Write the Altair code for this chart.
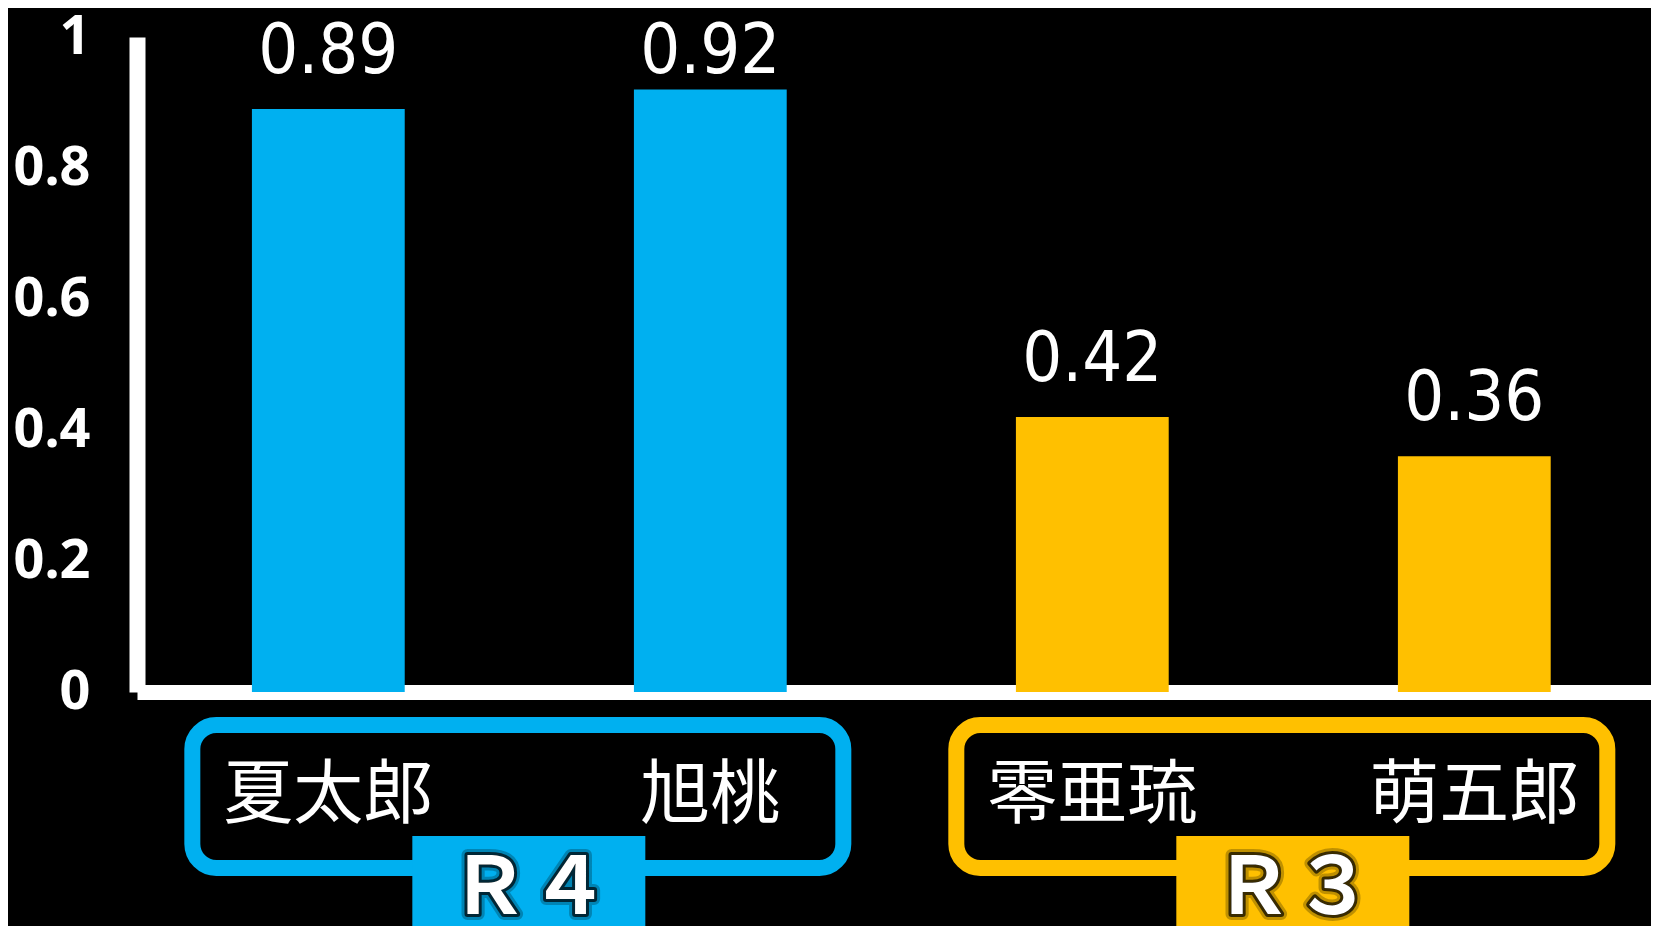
import altair as alt
import pandas as pd

# ---- data ----
names = ["夏太郎", "旭桃", "零亜琉", "萌五郎"]
values = [0.89, 0.92, 0.42, 0.36]
bar_groups = ["Ｒ４", "Ｒ４", "Ｒ３", "Ｒ３"]

group_labels = ["Ｒ４", "Ｒ３"]
group_first = ["夏太郎", "零亜琉"]
group_last = ["旭桃", "萌五郎"]
group_colors = ["#00B0F0", "#FFC000"]

y_ticks = [0, 0.2, 0.4, 0.6, 0.8, 1]

bars_df = pd.DataFrame({"name": names, "value": values, "group": bar_groups})
groups_df = pd.DataFrame({"group": group_labels, "first": group_first, "last": group_last})

xscale = alt.Scale(domain=names, paddingInner=0.6, paddingOuter=0.2817, align=0.534)
yscale = alt.Scale(domain=[0, 1], nice=False, zero=True)
cscale = alt.Scale(domain=group_labels, range=group_colors)

bars = alt.Chart(bars_df).mark_bar().encode(
    x=alt.X("name:N", scale=xscale, sort=names, title=None),
    y=alt.Y("value:Q", scale=yscale, title=None, axis=alt.Axis(values=y_ticks, format="~g")),
    color=alt.Color("group:N", scale=cscale, legend=None),
)

value_labels = alt.Chart(bars_df).transform_calculate(
    label_v="min(datum.value, 0.89)"
).mark_text(
    font="Liberation Sans Narrow, DejaVu Sans Condensed, sans-serif",
    fontSize=70, color="white", baseline="alphabetic", dy=-36,
).encode(
    x=alt.X("name:N", scale=xscale, sort=names),
    y=alt.Y("label_v:Q", scale=yscale),
    text=alt.Text("value:Q", format=".2f"),
)

boxes = alt.Chart(groups_df).mark_rect(
    filled=False, strokeWidth=16, cornerRadius=24, xOffset=-136, x2Offset=133,
).encode(
    x=alt.X("first:N", scale=xscale, bandPosition=0.5),
    x2=alt.X2("last:N", bandPosition=0.5),
    y=alt.value(688),
    y2=alt.value(831),
    stroke=alt.Color("group:N", scale=cscale, legend=None),
)

tabs = alt.Chart(groups_df).mark_rect(xOffset=84, x2Offset=-65).encode(
    x=alt.X("first:N", scale=xscale, bandPosition=0.5),
    x2=alt.X2("last:N", bandPosition=0.5),
    y=alt.value(799),
    y2=alt.value(900),
    fill=alt.Color("group:N", scale=cscale, legend=None),
)

def tab_text(**kw):
    return alt.Chart(groups_df).mark_text(
        font="Noto Sans CJK JP", fontSize=80, fontWeight="bold",
        baseline="middle", align="center", dx=201, **kw
    ).encode(
        x=alt.X("first:N", scale=xscale, bandPosition=0.5),
        y=alt.value(853),
        text="group:N",
    )

glow1 = tab_text(color="black", stroke="black", strokeWidth=12, strokeOpacity=0.25, strokeJoin="round")
glow2 = tab_text(color="black", stroke="black", strokeWidth=6, strokeOpacity=0.7, strokeJoin="round")
txt = tab_text(color="white")

chart = alt.layer(bars, boxes, tabs, value_labels, glow1, glow2, txt).properties(
    width=1514, height=655,
    padding={"top": 29, "left": 129, "right": 0, "bottom": 234},
    autosize=alt.AutoSizeParams(type="none"),
    background="#000000",
).configure_view(stroke=None).configure_axis(
    ticks=False, grid=False, domainColor="white", labelColor="white", zindex=1,
).configure_axisX(
    domainWidth=15, labelFont="Noto Sans CJK JP", labelFontSize=70, labelLimit=0,
    labelPadding=104, labelBaseline="middle", labelAngle=0, labelOverlap=False,
).configure_axisY(
    domainWidth=16, labelFont="Noto Sans", labelFontSize=54, labelFontWeight="bold",
    labelPadding=47, labelBaseline="middle",
)

chart.save("out.html", embed_options={"renderer": "svg", "actions": False})
